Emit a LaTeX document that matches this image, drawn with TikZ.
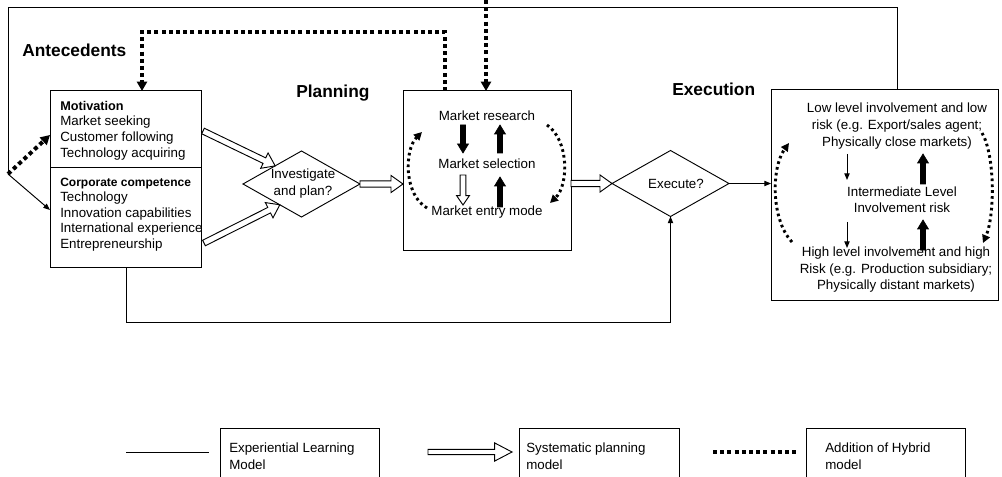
\documentclass[tikz,border=0pt]{standalone}
\usepackage{fontspec}
\setmainfont{Liberation Sans}
\usetikzlibrary{arrows.meta,calc,shapes.geometric}

% block arrow: style, shaft half-width, head half-width, head length, (from), (to)
\newcommand\blockarrow[6]{%
  \coordinate (bac) at ($#6!#4!#5$);
  \draw[#1] ($#5!#2!90:#6$) -- ($(bac)!#2!90:#6$) -- ($(bac)!#3!90:#6$) -- #6
    -- ($(bac)!#3!-90:#6$) -- ($(bac)!#2!-90:#6$) -- ($#5!#2!-90:#6$) -- cycle;
}

\begin{document}
\begin{tikzpicture}[x=0.75pt,y=-0.75pt,
  box/.style={draw,line width=0.75pt,inner sep=0,outer sep=0},
  diam/.style={draw,diamond,line width=0.7pt,inner sep=0,outer sep=0,
    minimum width=87.75pt,minimum height=49.5pt},
  txt/.style={inner sep=0,font=\fontsize{10}{11.8}\selectfont},
  heading/.style={inner sep=0,font=\fontsize{13}{15}\selectfont\bfseries},
  conn/.style={line width=0.7pt},
  connarrow/.style={conn,-{Triangle[length=5pt,width=4pt]}},
  hyb/.style={line width=3pt,dash pattern=on 3pt off 2.4pt},
  hybarrow/.style={hyb,-{Triangle[length=7pt,width=7.5pt]}},
  dotarc/.style={line width=2.2pt,dash pattern=on 2pt off 2.4pt,
    -{Triangle[length=6pt,width=6pt]}},
  hollow/.style={draw,fill=white,line width=0.7pt,line join=miter},
  blackblock/.style={draw=black,fill=black,line width=0.5pt,line join=miter}
]
\useasboundingbox[fill=white] (0,0) rectangle (1002,477);

% ---- headings
\node[heading,anchor=west] (ant)  at (22,50) {Antecedents};
\node[heading,anchor=west] (plan) at (296,93) {Planning};
\node[heading,anchor=west] (exec) at (672,89) {Execution};

% ---- antecedents box
\node[box,minimum width=113.25pt,minimum height=132pt] (lbox) at (125.5,179) {};
\draw[line width=0.75pt] (lbox.west |- 0,168) -- (lbox.east |- 0,168);
\node[txt,anchor=west,align=left] (mot) at (60,130.5)
  {{\fontsize{9.5}{11.8}\selectfont\bfseries Motivation}\\Market seeking\\Customer following\\Technology acquiring};
\node[txt,anchor=west,align=left,font=\fontsize{10}{11.6}\selectfont] (comp) at (60,214.5)
  {{\fontsize{9}{11.6}\selectfont\bfseries Corporate competence}\\Technology\\Innovation capabilities\\International experience\\Entrepreneurship};

% ---- decision diamonds
\node[diam] (inv) at (301.5,184) {};
\node[txt,align=center,font=\fontsize{10}{12.75}\selectfont] (invt) at (303,184) {Investigate\\and plan?};
\node[diam] (exe) at (670.5,183.5) {};
\node[txt] (exet) at (676,183.5) {Execute?};

% ---- planning box
\node[box,minimum width=126pt,minimum height=119.25pt] (pbox) at (487,170.5) {};
\node[txt] (mr) at (487,116) {Market research};
\node[txt] (ms) at (487,164) {Market selection};
\node[txt] (me) at (487,212) {Market entry mode};

% ---- execution box
\node[box,minimum width=170.25pt,minimum height=157.5pt] (rbox) at (884.5,195) {};
\node[txt,align=center,font=\fontsize{10}{12.75}\selectfont] (low) at (897,126)
  {Low level involvement and low\\risk (e.g. Export/sales agent;\\Physically close markets)};
\node[txt,align=center,font=\fontsize{10}{12}\selectfont] (mid) at (902,200)
  {Intermediate Level\\Involvement risk};
\node[txt,align=center,font=\fontsize{10}{12.4}\selectfont] (high) at (896,270)
  {High level involvement and high\\Risk (e.g. Production subsidiary;\\Physically distant markets)};

% ---- experiential learning loop (thin)
\coordinate (tr) at (897,7);
\coordinate (tl) at (8,7);
\coordinate (lc) at (8,174);
\draw[conn] (rbox.north -| tr) -- (tr) -- (tl) -- (lc);
\draw[connarrow] (lc) -- (lbox.west |- 0,210);
\coordinate (bl) at (126,322);
\coordinate (br) at (670.5,322);
\draw[connarrow] (lbox.south -| bl) -- (bl) -- (br) -- (exe.south);
\draw[connarrow] (exe.east) -- (rbox.west |- exe.east);

% ---- hybrid (dotted) connectors
\draw[hybarrow] (lc) -- (lbox.west |- 0,135);
\coordinate (d1) at (445,32);
\coordinate (d2) at (142,32);
\draw[hybarrow] (pbox.north -| d1) -- (d1) -- (d2) -- (lbox.north -| d2);
\coordinate (topin) at (486,0);
\draw[hybarrow] (topin) -- (pbox.north -| topin);

% ---- systematic planning (hollow block arrows)
\coordinate (h1s) at ($(lbox.east |- 0,131)+(2,0)$);
\coordinate (h1e) at ($(inv.west)!0.55!(inv.north)$);
\coordinate (h2s) at ($(lbox.east |- 0,243)+(3,0)$);
\coordinate (h2e) at ($(inv.west)!0.63!(inv.south)$);
\blockarrow{hollow}{2.3pt}{6.4pt}{9pt}{(h1s)}{(h1e)}
\blockarrow{hollow}{2.3pt}{6.4pt}{9pt}{(h2s)}{(h2e)}
\blockarrow{hollow}{2.3pt}{6.4pt}{9pt}{(inv.east)}{(pbox.west |- inv.east)}
\blockarrow{hollow}{2.3pt}{6.4pt}{9pt}{(pbox.east |- exe.west)}{(exe.west)}

% ---- arrows inside planning box
\coordinate (a1s) at (463,125); \coordinate (a1e) at (463,153);
\coordinate (a2s) at (500,153); \coordinate (a2e) at (500,125);
\coordinate (a3s) at (463,175); \coordinate (a3e) at (463,205);
\coordinate (a4s) at (500,207); \coordinate (a4e) at (500,177);
\blockarrow{blackblock}{1.9pt}{4.1pt}{6.75pt}{(a1s)}{(a1e)}
\blockarrow{blackblock}{1.9pt}{4.1pt}{6.75pt}{(a2s)}{(a2e)}
\blockarrow{hollow}{2.2pt}{4.8pt}{7pt}{(a3s)}{(a3e)}
\blockarrow{blackblock}{1.9pt}{4.1pt}{6.75pt}{(a4s)}{(a4e)}
\coordinate (c1s) at (427,208); \coordinate (c1e) at (422,132);
\draw[dotarc] (c1s) .. controls (404,195) and (404,150) .. (c1e);
\coordinate (c2s) at (547,125); \coordinate (c2e) at (550,203);
\draw[dotarc] (c2s) .. controls (569,140) and (569,185) .. (c2e);

% ---- arrows inside execution box
\coordinate (e1s) at (847,154); \coordinate (e1e) at (847,180);
\coordinate (e2s) at (847,222); \coordinate (e2e) at (847,248);
\draw[connarrow] (e1s) -- (e1e);
\draw[connarrow] (e2s) -- (e2e);
\coordinate (e3s) at (923,184); \coordinate (e3e) at (923,154);
\coordinate (e4s) at (923,250); \coordinate (e4e) at (923,220);
\blockarrow{blackblock}{1.9pt}{4.1pt}{6.75pt}{(e3s)}{(e3e)}
\blockarrow{blackblock}{1.9pt}{4.1pt}{6.75pt}{(e4s)}{(e4e)}
\coordinate (c3s) at (792,242); \coordinate (c3e) at (789,143);
\draw[dotarc] (c3s) .. controls (771,220) and (771,168) .. (c3e);
\coordinate (c4s) at (982,133); \coordinate (c4e) at (983,243);
\draw[dotarc] (c4s) .. controls (995,155) and (995,215) .. (c4e);

% ---- legend
\coordinate (l1s) at (126,452); \coordinate (l1e) at (209,452);
\draw[conn] (l1s) -- (l1e);
\node[box,minimum width=119.25pt,minimum height=40.5pt] (lg1) at (299.5,455) {};
\node[txt,anchor=west,align=left,font=\fontsize{10}{12.75}\selectfont] (lg1t) at (229,456) {Experiential Learning\\Model};
\coordinate (l2s) at (428,452); \coordinate (l2e) at (512,452);
\blockarrow{hollow}{2pt}{6.8pt}{13pt}{(l2s)}{(l2e)}
\node[box,minimum width=120pt,minimum height=40.5pt] (lg2) at (599,455) {};
\node[txt,anchor=west,align=left,font=\fontsize{10}{12.75}\selectfont] (lg2t) at (526,456) {Systematic planning\\model};
\coordinate (l3s) at (713,452); \coordinate (l3e) at (797,452);
\draw[hyb] (l3s) -- (l3e);
\node[box,minimum width=119.25pt,minimum height=40.5pt] (lg3) at (885.5,455) {};
\node[txt,anchor=west,align=left,font=\fontsize{10}{12.75}\selectfont] (lg3t) at (825,456) {Addition of Hybrid\\model};
\end{tikzpicture}
\end{document}
